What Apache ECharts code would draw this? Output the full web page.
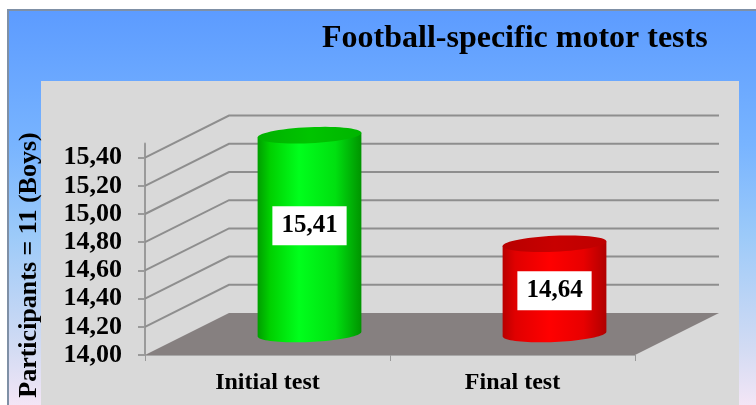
<!DOCTYPE html>
<html>
<head>
<meta charset="utf-8">
<script src="https://cdn.jsdelivr.net/npm/echarts@6/dist/echarts.min.js"></script>
<style>
html,body{margin:0;padding:0;background:#fff;}
#chart{width:756px;height:405px;}
</style>
</head>
<body>
<div id="chart"></div>
<script>
// ---- data ----
const categories = ['Initial test', 'Final test'];
const values = [15.41, 14.64];
const valueLabels = ['15,41', '14,64'];
const yTicks = [14.0, 14.2, 14.4, 14.6, 14.8, 15.0, 15.2, 15.4];
const titleText = 'Football-specific motor tests';
const yTitle = 'Participants = 11 (Boys)';

// ---- style ----
const DX = 84, DY = -42;          // 3D depth projection
const FONT = '"Liberation Serif", "Times New Roman", serif';
const bodyColors = [
  [{offset:0,color:'#009e00'},{offset:0.12,color:'#00d000'},{offset:0.4,color:'#00ff1c'},{offset:0.75,color:'#00e010'},{offset:1,color:'#009400'}],
  [{offset:0,color:'#b80000'},{offset:0.12,color:'#e00000'},{offset:0.45,color:'#ff0000'},{offset:0.78,color:'#e80000'},{offset:1,color:'#b00000'}]
];
const topColors = [
  [{offset:0,color:'#00b000'},{offset:0.5,color:'#00c400'},{offset:1,color:'#00b400'}],
  [{offset:0,color:'#b80000'},{offset:0.5,color:'#c80000'},{offset:1,color:'#be0000'}]
];
const Y_MIN = 14.0, Y_MAX = 15.5;

function fmt(v){ return v.toFixed(2).replace('.', ','); }

function ellPt(cx, cy, rx, ry, ang, t){
  const ca = Math.cos(ang), sa = Math.sin(ang);
  const x = rx * Math.cos(t), y = ry * Math.sin(t);
  return [cx + x * ca - y * sa, cy + x * sa + y * ca];
}
function ellipsePts(cx, cy, rx, ry, ang, t0, t1, n){
  const pts = [];
  for (let i = 0; i <= n; i++){
    pts.push(ellPt(cx, cy, rx, ry, ang, t0 + (t1 - t0) * i / n));
  }
  return pts;
}

const chart = echarts.init(document.getElementById('chart'), null, {renderer:'canvas'});

const option = {
  animation: false,
  title: {
    text: titleText,
    left: 322, top: 23, padding: 0,
    textStyle: {fontFamily: FONT, fontWeight: 'bold', fontSize: 32, color: '#000'}
  },
  graphic: [
    {type:'rect', z:-20, shape:{x:8,y:10,width:800,height:450},
     style:{fill:new echarts.graphic.LinearGradient(0,0,0,1,[
       {offset:0,color:'#5c9bff'},{offset:0.3,color:'#78b4ff'},{offset:0.5,color:'#9ccaf9'},
       {offset:0.75,color:'#d2dbf3'},{offset:0.88,color:'#f4e6f6'},{offset:1,color:'#f8eaf8'}]),
       stroke:'#7f90a6', lineWidth:2}},
    {type:'rect', z:-19, shape:{x:41,y:81,width:698,height:400}, style:{fill:'#d9d9d9'}},
    {type:'text', z:5, x:29, y:265, rotation:Math.PI/2,
     style:{text:yTitle, font:'bold 26px ' + FONT, fill:'#000', align:'center', verticalAlign:'middle'}}
  ],
  grid: {left:145, top:143.5, width:490, height:211.5, containLabel:false, outerBoundsMode:'none'},
  xAxis: {
    type:'category', data:categories,
    axisLine:{show:true, lineStyle:{color:'#a8a8a8', width:1}},
    axisTick:{show:true, alignWithLabel:false, length:6, lineStyle:{color:'#999', width:1}},
    axisLabel:{margin:16, fontFamily:FONT, fontWeight:'bold', fontSize:24, color:'#000'},
    splitLine:{show:false}
  },
  yAxis: {
    type:'value', min:Y_MIN, max:Y_MAX, interval:0.2,
    axisLine:{show:true, lineStyle:{color:'#9a9a9a', width:2}},
    axisTick:{show:true, length:7, customValues:yTicks, lineStyle:{color:'#9a9a9a', width:2}},
    axisLabel:{margin:23, customValues:yTicks, formatter:fmt, fontFamily:FONT, fontWeight:'bold', fontSize:26, color:'#000'},
    splitLine:{show:false}
  },
  series: [
    { // back/side wall gridlines
      type:'custom', z:1, silent:true,
      data: yTicks.filter(v => v > Y_MIN).map(v => [0, v]),
      renderItem: function(params, api){
        const cs = params.coordSys;
        const y = api.coord([0, api.value(1)])[1];
        const x0 = cs.x, x1 = cs.x + cs.width;
        return {type:'polyline', shape:{points:[[x0,y],[x0+DX,y+DY],[x1+DX,y+DY]]},
                style:{stroke:'#8e8e8e', lineWidth:2, fill:null}};
      }
    },
    { // floor
      type:'custom', z:2, silent:true,
      data: [[0, Y_MIN]],
      renderItem: function(params, api){
        const cs = params.coordSys;
        const y = api.coord([0, api.value(1)])[1];
        const x0 = cs.x, x1 = cs.x + cs.width;
        return {type:'polygon', shape:{points:[[x0,y],[x0+DX,y+DY],[x1+DX,y+DY],[x1,y]]},
                style:{fill:'#868080'}};
      }
    },
    { // cylinders
      type:'custom', z:3, silent:true,
      data: values.map((v, i) => [i, v]),
      renderItem: function(params, api){
        const i = api.value(0), v = api.value(1);
        const top = api.coord([i, v]);
        const base = api.coord([i, Y_MIN]);
        const band = api.size([1, 0])[0];
        const cx = top[0] + DX / 2;
        const yT = top[1] + DY / 2;
        const yB = base[1] + DY / 2;
        const rx = band * 0.212, ry = 8, ang = -0.045;
        const bottomHalf = ellipsePts(cx, yB, rx, ry, ang, Math.PI, 0, 40);
        const topL = ellPt(cx, yT, rx, ry, ang, Math.PI);
        const topR = ellPt(cx, yT, rx, ry, ang, 0);
        const body = [topL].concat(bottomHalf).concat([topR]);
        const topEl = ellipsePts(cx, yT, rx, ry, ang, 0, Math.PI * 2, 60);
        const ly = 0.6 * yT + 0.4 * yB + 11;
        return {type:'group', children:[
          {type:'polygon', shape:{points:body},
           style:{fill:new echarts.graphic.LinearGradient(0,0,1,0,bodyColors[i])}},
          {type:'polygon', shape:{points:topEl},
           style:{fill:new echarts.graphic.LinearGradient(0,0,1,0,topColors[i])}},
          {type:'text', z2:10, x:cx, y:ly,
           style:{text:valueLabels[i], font:'bold 25px ' + FONT, fill:'#000',
                  align:'center', verticalAlign:'middle', lineHeight:25,
                  backgroundColor:'#fff', padding:[7,9]}}
        ]};
      }
    }
  ]
};
chart.setOption(option);
</script>
</body>
</html>
